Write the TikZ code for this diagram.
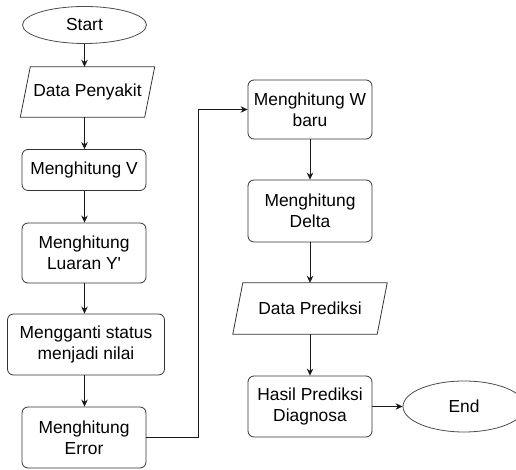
\documentclass[tikz,border=0pt]{standalone}
\usepackage{fontspec}
\setmainfont{Liberation Sans}
\usetikzlibrary{shapes.geometric,arrows.meta}

\begin{document}
\begin{tikzpicture}[x=1pt,y=1pt,
    every node/.style={font=\fontsize{17.4}{21}\selectfont, align=center, inner sep=2pt},
    garis/.style={draw=black!80, line width=0.8pt},
    terminal/.style={ellipse, draw=black!70, line width=0.8pt, minimum width=124, minimum height=37},
    proses/.style={rectangle, rounded corners=6pt, garis, minimum width=124, minimum height=61},
    datain/.style={rectangle, minimum width=124, minimum height=50},
    panah/.style={-{Stealth[length=7pt,width=6.5pt]}, line width=0.8pt, black!90}]
    \useasboundingbox (0,0) rectangle (516,470);

    \node[terminal] (start) at (84.5,445) {Start};
    \node[datain] (penyakit) at (87.5,378) {Data Penyakit};
    \node[proses, minimum height=41] (hitungV) at (84,300) {Menghitung V};
    \node[proses, minimum height=60] (luaran) at (84,217) {Menghitung\\Luaran Y\textquotesingle};
    \node[proses, minimum width=157] (ganti) at (86,125.5) {Mengganti status\\menjadi nilai};
    \node[proses] (error) at (84,32.5) {Menghitung\\Error};

    \node[proses, minimum height=59] (wbaru) at (310,360.5) {Menghitung W\\baru};
    \node[proses, minimum height=62] (delta) at (310,259) {Menghitung\\Delta};
    \node[datain, minimum width=144, minimum height=51] (prediksi) at (310,161.5) {Data Prediksi};
    \node[proses] (hasil) at (310,63.5) {Hasil Prediksi\\Diagnosa};
    \node[terminal, minimum width=122, minimum height=51] (end) at (464,63.5) {End};

    \draw[garis] ([xshift=-5pt]penyakit.south west) -- ([xshift=-5pt]penyakit.south east)
        -- ([xshift=5pt]penyakit.north east) -- ([xshift=5pt]penyakit.north west) -- cycle;
    \draw[garis] ([xshift=-5pt]prediksi.south west) -- ([xshift=-5pt]prediksi.south east)
        -- ([xshift=5pt]prediksi.north east) -- ([xshift=5pt]prediksi.north west) -- cycle;

    \coordinate (belok) at (198,32.5);

    \draw[panah] (start) -- (start |- penyakit.north);
    \draw[panah] (start |- penyakit.south) -- (start |- hitungV.north);
    \draw[panah] (start |- hitungV.south) -- (start |- luaran.north);
    \draw[panah] (start |- luaran.south) -- (start |- ganti.north);
    \draw[panah] (start |- ganti.south) -- (start |- error.north);
    \draw[panah] (error.east) -- (belok) |- (wbaru.west);
    \draw[panah] (wbaru) -- (delta);
    \draw[panah] (delta) -- (prediksi);
    \draw[panah] (prediksi) -- (hasil);
    \draw[panah] (hasil) -- (end);
\end{tikzpicture}
\end{document}
